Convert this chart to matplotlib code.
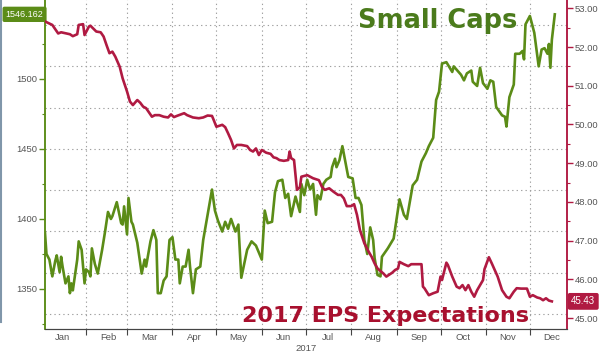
import matplotlib
matplotlib.use('Agg')
import matplotlib.pyplot as plt
import matplotlib.dates as mdates
from matplotlib.lines import Line2D
from matplotlib.ticker import MultipleLocator, NullFormatter, FormatStrFormatter, FuncFormatter
import matplotlib.transforms as mtransforms
import numpy as np

# Small caps index (left axis): days since 2017-01-01, index level
small_days = [3, 4, 6, 8, 10, 11, 13, 14, 15, 17, 19, 20, 21, 22, 25, 26, 28, 30, 31, 33,
              34, 35, 37, 39, 42, 44, 46, 48, 49, 52, 55, 56, 57, 59, 60, 62, 63, 66, 69, 71,
              72, 75, 77, 79, 80, 82, 84, 86, 88, 90, 92, 94, 95, 97, 99, 101, 102, 104, 106, 109,
              111, 117, 119, 121, 124, 126, 128, 130, 133, 135, 137, 141, 144, 147, 151, 153, 155, 158, 160, 162,
              165, 167, 169, 171, 174, 177, 178, 180, 182, 184, 186, 188, 189, 191, 193, 195, 198, 199, 201, 202,
              204, 206, 208, 210, 213, 215, 217, 219, 221, 223, 225, 227, 228, 230, 232, 233, 237, 241, 245, 248,
              250, 254, 257, 260, 263, 265, 268, 270, 272, 274, 277, 281, 282, 287, 289, 291, 294, 295, 298, 300,
              302, 305, 307, 309, 311, 315, 317, 318, 320, 323, 324, 327, 329, 330, 331, 334, 336, 337, 340, 342,
              344, 346, 347, 348, 349, 351]
small_caps = [1390, 1375, 1371, 1359, 1370, 1374, 1362, 1373, 1366, 1354, 1359, 1347, 1354, 1349, 1371, 1384, 1378, 1354, 1364, 1362,
              1359, 1379, 1368, 1361, 1378, 1391, 1405, 1400, 1402, 1412, 1397, 1396, 1409, 1389, 1415, 1398, 1396, 1383, 1361, 1371,
              1366, 1384, 1392, 1385, 1347, 1347, 1356, 1359, 1385, 1387, 1371, 1371, 1354, 1366, 1366, 1378, 1366, 1347, 1364, 1366,
              1385, 1421, 1406, 1399, 1391, 1398, 1393, 1400, 1391, 1396, 1358, 1378, 1384, 1381, 1371, 1406, 1397, 1398, 1419, 1427,
              1428, 1415, 1418, 1402, 1416, 1405, 1425, 1417, 1428, 1421, 1425, 1403, 1417, 1414, 1425, 1428, 1430, 1437, 1443, 1437,
              1442, 1452, 1441, 1430, 1429, 1415, 1415, 1410, 1385, 1375, 1394, 1385, 1372, 1360, 1359, 1373, 1379, 1386, 1414, 1403,
              1400, 1424, 1428, 1441, 1447, 1452, 1458, 1485, 1491, 1511, 1512, 1505, 1509, 1503, 1499, 1504, 1506, 1498, 1495, 1508,
              1497, 1493, 1499, 1498, 1480, 1474, 1473, 1466, 1487, 1496, 1518, 1518, 1520, 1514, 1539, 1545, 1537, 1533, 1509, 1521,
              1522, 1518, 1525, 1508, 1528, 1546.162]

# 2017 EPS expectations (right axis)
eps_days = [3, 8, 12, 14, 20, 22, 25, 26, 29, 30, 33, 34, 38, 41, 43, 45, 47, 49, 51, 54,
            56, 59, 61, 63, 66, 68, 70, 72, 76, 78, 81, 84, 87, 89, 91, 93, 98, 100, 104, 108,
            111, 114, 117, 118, 120, 124, 126, 128, 130, 132, 134, 137, 141, 143, 145, 147, 149, 151, 154, 157,
            159, 161, 163, 166, 169, 170, 171, 173, 175, 177, 178, 182, 186, 190, 192, 194, 197, 200, 203, 205,
            207, 209, 212, 214, 216, 218, 221, 224, 226, 228, 230, 234, 236, 240, 242, 244, 245, 248, 251, 253,
            258, 260, 261, 262, 265, 268, 271, 273, 274, 277, 278, 281, 284, 286, 288, 290, 292, 294, 296, 298,
            300, 302, 303, 306, 308, 310, 312, 315, 318, 320, 323, 325, 328, 332, 334, 336, 339, 341, 343, 345,
            347, 349]
eps_2017 = [52.66, 52.57, 52.35, 52.38, 52.33, 52.28, 52.33, 52.57, 52.59, 52.31, 52.53, 52.55, 52.40, 52.38, 52.27, 52.05, 51.84, 51.88, 51.75, 51.49,
            51.19, 50.85, 50.59, 50.50, 50.63, 50.56, 50.46, 50.42, 50.20, 50.24, 50.24, 50.20, 50.18, 50.26, 50.19, 50.22, 50.29, 50.24, 50.18, 50.16,
            50.18, 50.23, 50.22, 50.13, 49.94, 49.99, 49.93, 49.77, 49.60, 49.38, 49.47, 49.47, 49.44, 49.34, 49.30, 49.38, 49.21, 49.34, 49.27, 49.24,
            49.15, 49.13, 49.08, 49.06, 49.08, 49.30, 49.13, 49.08, 48.31, 48.38, 48.65, 48.69, 48.61, 48.56, 48.39, 48.31, 48.35, 48.26, 48.18, 48.18,
            48.09, 47.89, 47.89, 47.94, 47.66, 47.27, 46.93, 46.71, 46.58, 46.41, 46.28, 46.15, 46.07, 46.17, 46.24, 46.28, 46.45, 46.39, 46.34, 46.39,
            46.39, 46.39, 45.81, 45.77, 45.59, 45.64, 45.68, 46.07, 45.98, 46.43, 46.37, 46.07, 45.81, 45.77, 45.85, 45.72, 45.85, 45.68, 45.55, 45.72,
            45.85, 45.98, 46.26, 46.57, 46.41, 46.24, 46.07, 45.72, 45.55, 45.51, 45.68, 45.77, 45.76, 45.76, 45.55, 45.59, 45.53, 45.51, 45.46, 45.51,
            45.45, 45.43]

green = '#5b8c17'
red = '#b01a42'
tick_gray = '#555555'
tick_font = 'Liberation Sans'

start = np.datetime64('2017-01-01')
small_dates = start + np.array(small_days, dtype='timedelta64[D]')
eps_dates = start + np.array(eps_days, dtype='timedelta64[D]')

plt.rcParams['font.family'] = 'DejaVu Sans'

fig = plt.figure(figsize=(6, 3.56), dpi=100)
ax = fig.add_axes([0.075, 0.0758, 0.87, 0.9242])
ax2 = ax.twinx()

# independent dotted grid
grid_kw = dict(color='#a0a0a0', lw=0.8, linestyle=(0, (1.2, 2.8)), zorder=0)
fracs = 0.0456 + 0.1255 * np.arange(8)
ax.hlines(fracs, 0, 1, transform=ax.transAxes, **grid_kw)
for m in range(2, 13):
    ax.axvline(np.datetime64('2017-%02d-01' % m), **grid_kw)

ax.plot(small_dates, small_caps, color=green, lw=1.9, zorder=3)
ax2.plot(eps_dates, eps_2017, color=red, lw=1.9, zorder=3)

ax.set_xlim(np.datetime64('2017-01-04'), np.datetime64('2017-12-26T08'))
ax.set_ylim(1321.4, 1556.4)
ax2.set_ylim(44.716, 53.214)

# x axis
ax.xaxis.set_major_locator(mdates.MonthLocator())
ax.xaxis.set_major_formatter(NullFormatter())
ax.xaxis.set_minor_locator(mdates.MonthLocator(bymonthday=16))
ax.xaxis.set_minor_formatter(mdates.DateFormatter('%b'))
ax.tick_params(axis='x', which='major', length=4, width=0.8, color='#444444')
ax.tick_params(axis='x', which='minor', length=0, pad=3, labelsize=6.8, labelcolor=tick_gray)
ax.set_xlabel('2017', fontsize=6.8, color=tick_gray, labelpad=1, family=tick_font)

# left axis (the 1550 label sits under the last-value box)
ax.yaxis.set_major_locator(MultipleLocator(50))
ax.yaxis.set_minor_locator(MultipleLocator(25))
ax.yaxis.set_major_formatter(FuncFormatter(lambda v, p: '' if v > 1525 else '%d' % v))
ax.tick_params(axis='y', which='major', length=4, width=1, color=green, labelsize=6.8,
               labelcolor=tick_gray, pad=1.5)
ax.tick_params(axis='y', which='minor', length=2, width=0.8, color=green)

# right axis
ax2.yaxis.set_major_locator(MultipleLocator(1))
ax2.yaxis.set_minor_locator(MultipleLocator(0.5))
ax2.yaxis.set_major_formatter(FormatStrFormatter('%.2f'))
ax2.tick_params(axis='y', which='major', length=4, width=1, color=red, labelsize=6.8,
                labelcolor=tick_gray, pad=1.5)
ax2.tick_params(axis='y', which='minor', length=2, width=0.8, color=red)

for a in (ax, ax2):
    a.spines['top'].set_visible(False)
    a.spines['left'].set_color(green)
    a.spines['right'].set_color(red)
    a.spines['bottom'].set_color('#444444')
    a.spines['left'].set_linewidth(1.1)
    a.spines['right'].set_linewidth(1.1)
    for lab in a.get_xticklabels(which='both') + a.get_yticklabels():
        lab.set_fontfamily(tick_font)

# last-value boxes
tl = mtransforms.blended_transform_factory(ax.transAxes, ax.transData)
ax.text(-0.003, small_caps[-1], '%.3f' % small_caps[-1], transform=tl, ha='right', va='center',
        fontsize=6.5, color='white', zorder=10, clip_on=False, family=tick_font,
        bbox=dict(boxstyle='round,pad=0.35,rounding_size=0.2', fc=green, ec='none'))
tr = mtransforms.blended_transform_factory(ax2.transAxes, ax2.transData)
ax2.text(1.008, eps_2017[-1], '%.2f' % eps_2017[-1], transform=tr, ha='left', va='center',
         fontsize=7, color='white', zorder=10, clip_on=False, family=tick_font,
         bbox=dict(boxstyle='round,pad=0.35,rounding_size=0.2', fc=red, ec='none'))

# titles
fig.text(358 / 600, 1 - 28 / 356, 'Small Caps', fontsize=18.5, fontweight='bold',
         color='#4b7b1c', ha='left', va='baseline')
fig.text(242 / 600, 1 - 322 / 356, '2017 EPS Expectations', fontsize=16, fontweight='bold',
         color='#a8102e', ha='left', va='baseline')

# left frame edge
fig.add_artist(Line2D([0.002, 0.002], [0.095, 1], transform=fig.transFigure,
                      color='#8096aa', lw=1.5))

fig.savefig('out.png', dpi=100)
